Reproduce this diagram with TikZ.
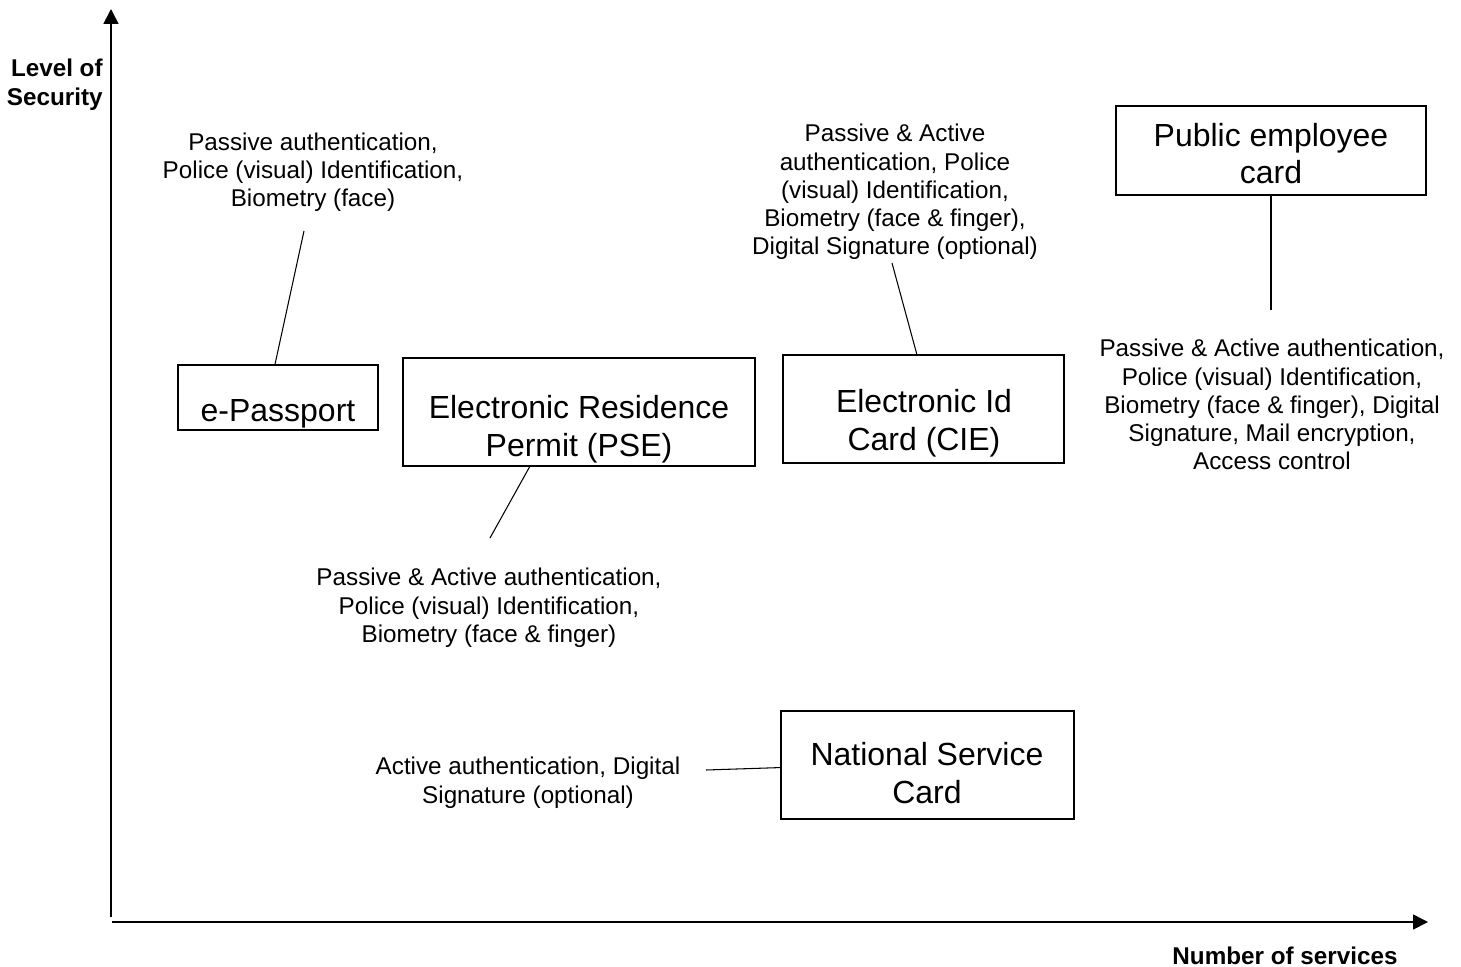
\documentclass[tikz,border=0pt]{standalone}
\usepackage{fontspec}
\setmainfont{Liberation Sans}
\usetikzlibrary{arrows.meta,positioning}

\begin{document}
\begin{tikzpicture}[x=0.02cm,y=-0.02cm,
    cardbox/.style={draw=black,line width=1.1pt,inner sep=0pt},
    cardtext/.style={font=\fontsize{18.2}{21.5}\selectfont,align=center,inner sep=0pt,anchor=north},
    notetext/.style={font=\fontsize{13.8}{16.05}\selectfont,align=center,inner sep=0pt,anchor=north},
    axislabel/.style={font=\fontsize{13.8}{16.4}\selectfont\bfseries,inner sep=0pt},
    leadline/.style={line width=0.6pt},
    axisline/.style={line width=0.9pt,-{Triangle[length=0.3cm,width=0.3cm]}}]
  \useasboundingbox (0,0) rectangle (1461,967);

  % axes
  \coordinate (y-foot) at (111,917);
  \coordinate (y-top) at (111,9);
  \coordinate (x-foot) at (112,922);
  \coordinate (x-end) at (1428,922);
  \draw[axisline] (y-foot) -- (y-top);
  \draw[axisline] (x-foot) -- (x-end);
  \node[axislabel,anchor=north east,align=right] (ylab) at (103,58.5) {Level of\\Security};
  \node[axislabel,anchor=base] (xlab) at (1285,964) {Number of services};

  % cards
  \node[cardbox,minimum width=4cm,minimum height=1.3cm] (pass) at (278,397.5) {};
  \node[cardtext] (pass-t) at (278,399) {e-Passport};
  \node[cardbox,minimum width=7.04cm,minimum height=2.16cm] (pse) at (579,412) {};
  \node[cardtext] (pse-t) at (579,395) {Electronic Residence\\Permit (PSE)};
  \node[cardbox,minimum width=5.62cm,minimum height=2.16cm] (cie) at (923.5,409) {};
  \node[cardtext] (cie-t) at (924,389) {Electronic Id\\Card (CIE)};
  \node[cardbox,minimum width=6.2cm,minimum height=1.78cm] (pub) at (1271,150.5) {};
  \node[cardtext] (pub-t) at (1271,122.6) {Public employee\\card};
  \node[cardbox,minimum width=5.86cm,minimum height=2.16cm] (nsc) at (927.5,765) {};
  \node[cardtext] (nsc-t) at (927,742) {National Service\\Card};

  % notes
  \node[notetext] (pass-n) at (313,132.5) {Passive authentication,\\Police (visual) Identification,\\Biometry (face)};
  \node[notetext] (cie-n) at (895,124) {Passive \& Active\\authentication, Police\\(visual) Identification,\\Biometry (face \& finger),\\Digital Signature (optional)};
  \node[notetext] (pub-n) at (1272,339) {Passive \& Active authentication,\\Police (visual) Identification,\\Biometry (face \& finger), Digital\\Signature, Mail encryption,\\Access control};
  \node[notetext] (pse-n) at (489,568) {Passive \& Active authentication,\\Police (visual) Identification,\\Biometry (face \& finger)};
  \node[notetext] (nsc-n) at (528,757) {Active authentication, Digital\\Signature (optional)};

  % lead lines
  \coordinate (pass-lead) at (304,231);
  \coordinate (cie-lead) at (892,263);
  \coordinate (pub-lead) at (1271,310);
  \coordinate (pse-lead) at (490,538);
  \coordinate (nsc-lead) at (706,770);
  \draw[leadline] (pass-lead) -- (pass.95);
  \draw[leadline] (cie-lead) -- (cie.97);
  \draw[leadline] (pub.south) -- (pub-lead);
  \draw[leadline] (pse.228) -- (pse-lead);
  \draw[leadline] (nsc-lead) -- (nsc.181);
\end{tikzpicture}
\end{document}
